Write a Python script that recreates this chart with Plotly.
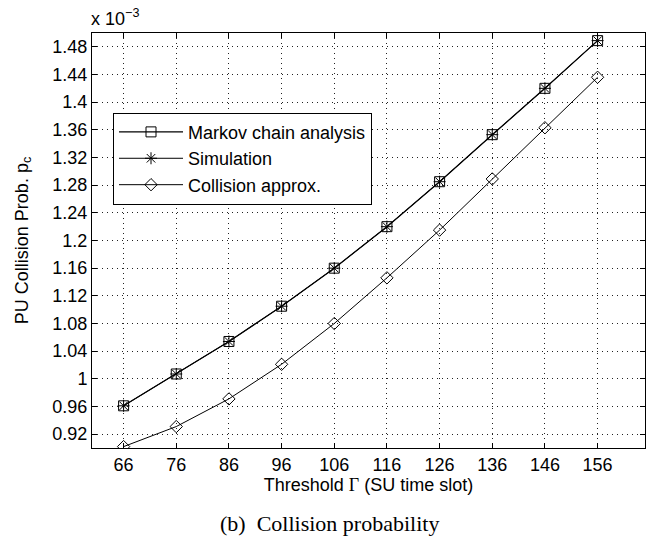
import plotly.graph_objects as go

# Threshold Gamma (in SU time slots)
threshold = [66, 76, 86, 96, 106, 116, 126, 136, 146, 156]

# PU collision probability p_c, expressed in units of 1e-3
markov_chain = [0.961, 1.007, 1.054, 1.105, 1.160, 1.220, 1.285, 1.353, 1.420, 1.489]
simulation = [0.961, 1.007, 1.054, 1.105, 1.160, 1.220, 1.285, 1.353, 1.420, 1.489]
collision_approx = [0.902, 0.931, 0.971, 1.021, 1.080, 1.146, 1.215, 1.289, 1.363, 1.436]

y_tick_values = [0.92, 0.96, 1.00, 1.04, 1.08, 1.12, 1.16, 1.20, 1.24, 1.28,
                 1.32, 1.36, 1.40, 1.44, 1.48]
y_tick_labels = ["0.92", "0.96", "1", "1.04", "1.08", "1.12", "1.16", "1.2", "1.24",
                 "1.28", "1.32", "1.36", "1.4", "1.44", "1.48"]

SANS = "Liberation Sans, Arial, Helvetica, sans-serif"
SERIF = "Liberation Serif, Times New Roman, serif"

fig = go.Figure()

fig.add_trace(go.Scatter(
    x=threshold, y=markov_chain, name="Markov chain analysis",
    mode="lines+markers",
    line=dict(color="black", width=1.3),
    marker=dict(symbol="square-open", size=10, color="black", line=dict(width=1)),
))
fig.add_trace(go.Scatter(
    x=threshold, y=simulation, name="Simulation",
    mode="lines+markers",
    line=dict(color="black", width=1),
    marker=dict(symbol="asterisk-open", size=10, color="black", line=dict(width=1)),
))
fig.add_trace(go.Scatter(
    x=threshold, y=collision_approx, name="Collision approx.",
    mode="lines+markers",
    line=dict(color="black", width=1),
    marker=dict(symbol="diamond-open", size=9.5, color="black", line=dict(width=1)),
))

axis_common = dict(
    showline=True, linecolor="black", linewidth=1, mirror="allticks",
    ticks="inside", ticklen=5, tickcolor="black", tickwidth=1,
    showgrid=True, gridcolor="#222", gridwidth=1, griddash="1px,4px",
    zeroline=False, tickfont=dict(family=SANS, size=18, color="black"),
)

fig.update_xaxes(
    range=[60, 165], tickvals=threshold,
    title=dict(text="Threshold <span style=\"font-family:'Liberation Serif'\">Γ</span> (SU time slot)",
               font=dict(family=SANS, size=18, color="black"), standoff=1),
    **axis_common,
)
fig.update_yaxes(
    range=[0.90, 1.50], tickvals=y_tick_values, ticktext=y_tick_labels,
    title=dict(text="PU Collision Prob. p<sub>c</sub>",
               font=dict(family=SANS, size=18, color="black"), standoff=19),
    **axis_common,
)

fig.add_annotation(
    text="x 10<sup>−3</sup>", xref="paper", yref="paper", x=0, y=1.0,
    xanchor="left", yanchor="bottom", showarrow=False, yshift=2, xshift=-3,
    font=dict(family=SANS, size=18, color="black"),
)
fig.add_annotation(
    text="(b)  Collision probability", xref="paper", yref="paper",
    x=0.4286, y=-0.181, xanchor="center", yanchor="middle", showarrow=False,
    font=dict(family=SERIF, size=22, color="black"),
)

fig.update_layout(
    width=658, height=552,
    margin=dict(l=92, r=13, t=33, b=104),
    paper_bgcolor="white", plot_bgcolor="white",
    font=dict(family=SANS, size=18, color="black"),
    showlegend=True,
    legend=dict(
        x=0.038, y=0.808, xanchor="left", yanchor="top",
        bgcolor="white", bordercolor="black", borderwidth=1,
        font=dict(family=SANS, size=18, color="black"),
        itemwidth=64,
    ),
)

fig.write_html("out.html")
